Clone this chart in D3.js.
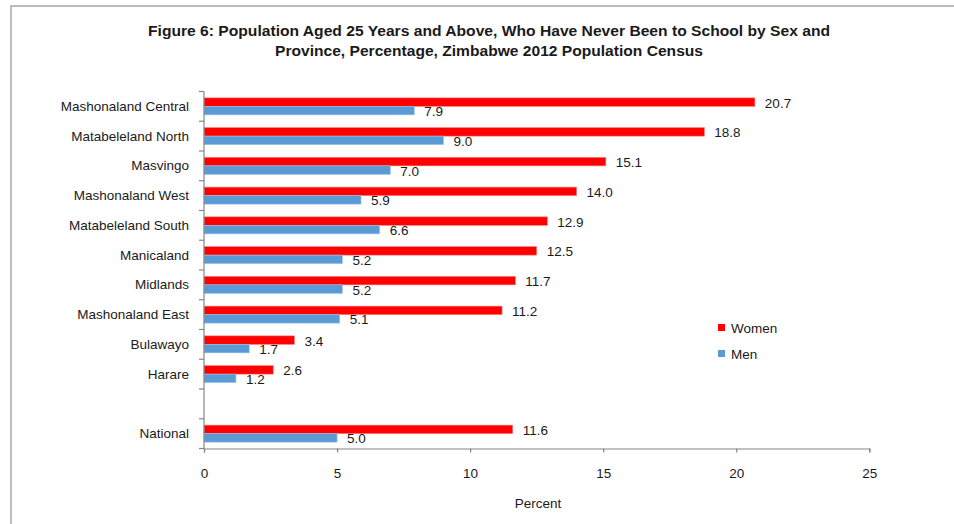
<!DOCTYPE html>
<html>
<head>
<meta charset="utf-8">
<script src="https://cdn.jsdelivr.net/npm/d3@7"></script>
<style>
  html, body { margin: 0; padding: 0; background: #fff; }
  svg { display: block; }
  text { font-family: "Liberation Sans", Arial, sans-serif; fill: #1a1a1a; }
</style>
</head>
<body>
<svg id="chart" width="954" height="524"></svg>
<script>
// Provinces in display order; the empty entry is a spacer row before National.
const categories = [
  "Mashonaland Central", "Matabeleland North", "Masvingo", "Mashonaland West",
  "Matabeleland South", "Manicaland", "Midlands", "Mashonaland East",
  "Bulawayo", "Harare", "", "National"
];
const women = [20.7, 18.8, 15.1, 14.0, 12.9, 12.5, 11.7, 11.2, 3.4, 2.6, null, 11.6];
const men   = [7.9, 9.0, 7.0, 5.9, 6.6, 5.2, 5.2, 5.1, 1.7, 1.2, null, 5.0];
const seriesNames = ["Women", "Men"];
const xTicks = [0, 5, 10, 15, 20, 25];
const titleLines = [
  "Figure 6: Population Aged 25 Years and Above, Who Have Never Been to School by Sex and",
  "Province, Percentage, Zimbabwe 2012 Population Census"
];

const colors = { Women: "#ff0000", Men: "#5b9bd5" };
const strokes = { Women: "#ff7a7a", Men: "#9cc3e8" };
const axisColor = "#868686";

const svg = d3.select("#chart");

// outer frame
svg.append("rect")
  .attr("x", 11).attr("y", 6)
  .attr("width", 960).attr("height", 540)
  .attr("fill", "none").attr("stroke", "#a6a6a6").attr("stroke-width", 1.5);

// title
const titleWidths = [682, 428];
svg.append("g").selectAll("text").data(titleLines).join("text")
  .attr("x", 489).attr("y", (d, i) => 36 + i * 20)
  .attr("text-anchor", "middle")
  .attr("font-size", 14.5).attr("font-weight", "bold")
  .attr("textLength", (d, i) => titleWidths[i])
  .attr("lengthAdjust", "spacingAndGlyphs")
  .text(d => d);

const plot = { left: 204, right: 869.3, top: 91.5, bottom: 448.5 };

const x = d3.scaleLinear().domain([0, 25]).range([plot.left, plot.right]);
const y = d3.scaleBand().domain(categories).range([plot.top, plot.bottom]).padding(0);
const ySub = d3.scaleBand().domain(seriesNames).range([0, y.bandwidth()])
  .paddingInner(0).paddingOuter(0.75);

const rows = categories.map((c, i) => ({ cat: c, Women: women[i], Men: men[i] }));

// bars
const groups = svg.append("g").selectAll("g").data(rows).join("g")
  .attr("transform", d => `translate(0,${y(d.cat)})`);

groups.selectAll("rect")
  .data(d => seriesNames.filter(s => d[s] != null).map(s => ({ s, v: d[s] })))
  .join("rect")
  .attr("x", x(0))
  .attr("y", d => ySub(d.s))
  .attr("width", d => x(d.v) - x(0))
  .attr("height", ySub.bandwidth())
  .attr("fill", d => colors[d.s])
  .attr("stroke", d => strokes[d.s])
  .attr("stroke-width", 0.6);

// value labels
groups.selectAll("text.val")
  .data(d => seriesNames.filter(s => d[s] != null).map(s => ({ s, v: d[s] })))
  .join("text")
  .attr("class", "val")
  .attr("x", d => x(d.v) + 10)
  .attr("y", d => ySub(d.s) + ySub.bandwidth() / 2 + 1)
  .attr("dominant-baseline", "central")
  .attr("font-size", 13.5)
  .text(d => d.v.toFixed(1));

// y axis: line, boundary ticks, category labels
const yAxis = svg.append("g");
yAxis.append("line")
  .attr("x1", plot.left).attr("x2", plot.left)
  .attr("y1", plot.top).attr("y2", plot.bottom)
  .attr("stroke", axisColor).attr("stroke-width", 1.2);
const bounds = categories.map(c => y(c)).concat([y.range()[1]]);
yAxis.selectAll("line.tick").data(bounds).join("line")
  .attr("class", "tick")
  .attr("x1", plot.left - 5).attr("x2", plot.left)
  .attr("y1", d => d).attr("y2", d => d)
  .attr("stroke", axisColor).attr("stroke-width", 1.2);
yAxis.selectAll("text").data(categories.filter(c => c !== "")).join("text")
  .attr("x", 189)
  .attr("y", d => y(d) + y.bandwidth() / 2)
  .attr("dominant-baseline", "central")
  .attr("text-anchor", "end")
  .attr("font-size", 13.5)
  .text(d => d);

// x axis
const xAxis = svg.append("g")
  .attr("transform", `translate(0,${plot.bottom})`)
  .call(d3.axisBottom(x).tickValues(xTicks).tickSize(4).tickPadding(16).tickFormat(d3.format("d")));
xAxis.select(".domain").attr("stroke", axisColor).attr("stroke-width", 1.2);
xAxis.selectAll(".tick line").attr("stroke", axisColor).attr("stroke-width", 1.2);
xAxis.selectAll(".tick text")
  .attr("font-family", "Liberation Sans, Arial, sans-serif")
  .attr("font-size", 13.5).attr("fill", "#1a1a1a");

svg.append("text")
  .attr("x", 538).attr("y", 503)
  .attr("text-anchor", "middle").attr("dominant-baseline", "central")
  .attr("font-size", 13.5)
  .text("Percent");

// legend
const legend = svg.append("g").selectAll("g").data(seriesNames).join("g")
  .attr("transform", (d, i) => `translate(718,${324 + i * 26})`);
legend.append("rect")
  .attr("width", 7).attr("height", 7)
  .attr("fill", d => colors[d]);
legend.append("text")
  .attr("x", 13).attr("y", 4)
  .attr("dominant-baseline", "central")
  .attr("font-size", 13.5)
  .text(d => d);
</script>
</body>
</html>
